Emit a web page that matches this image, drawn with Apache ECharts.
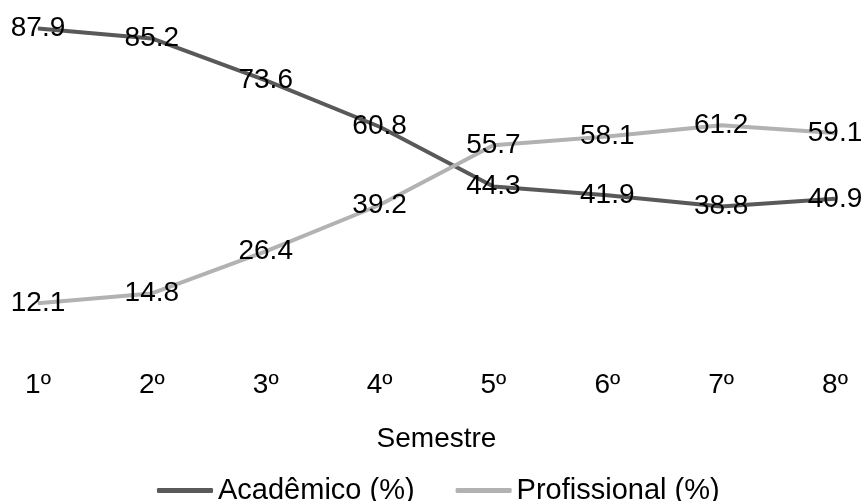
<!DOCTYPE html>
<html>
<head>
<meta charset="utf-8">
<script src="https://cdn.jsdelivr.net/npm/echarts@6/dist/echarts.min.js"></script>
<style>html,body{margin:0;padding:0;background:#fff}#c{width:861px;height:501px}</style>
</head>
<body>
<div id="c"></div>
<script>
const categories = ['1º','2º','3º','4º','5º','6º','7º','8º'];
const academico = [87.9, 85.2, 73.6, 60.8, 44.3, 41.9, 38.8, 40.9];
const profissional = [12.1, 14.8, 26.4, 39.2, 55.7, 58.1, 61.2, 59.1];
const seriesNames = ['Acadêmico (%)', 'Profissional (%)'];
const axisName = 'Semestre';

const FONT = 'Liberation Sans, Arial, sans-serif';
const FS = 28;
const chart = echarts.init(document.getElementById('c'), null, {renderer: 'canvas'});
const labelStyle = {show: true, position: 'inside', color: '#000', fontSize: FS, fontFamily: FONT};
chart.setOption({
  animation: false,
  backgroundColor: '#fff',
  grid: {left: 38, right: 26, top: 21, bottom: 154, containLabel: false},
  xAxis: {
    type: 'category', data: categories, boundaryGap: false,
    axisLine: {show: false}, axisTick: {show: false}, splitLine: {show: false},
    axisLabel: {color: '#000', fontSize: FS, fontFamily: FONT, margin: 24},
    name: axisName, nameLocation: 'middle', nameGap: 78,
    nameTextStyle: {color: '#000', fontSize: FS, fontFamily: FONT}
  },
  yAxis: {type: 'value', min: 0, max: 90, show: false},
  legend: {
    top: 471, left: 152, itemWidth: 56, itemHeight: 5, itemGap: 41, icon: 'roundRect',
    textStyle: {color: '#000', fontSize: 29, fontFamily: FONT},
    data: seriesNames
  },
  series: [
    {name: seriesNames[0], type: 'line', data: academico, symbol: 'circle', symbolSize: 1, showSymbol: true,
     lineStyle: {color: '#595959', width: 4}, itemStyle: {color: '#595959'}, label: labelStyle},
    {name: seriesNames[1], type: 'line', data: profissional, symbol: 'circle', symbolSize: 1, showSymbol: true,
     lineStyle: {color: '#b2b2b2', width: 4}, itemStyle: {color: '#b2b2b2'}, label: labelStyle}
  ]
});
</script>
</body>
</html>
